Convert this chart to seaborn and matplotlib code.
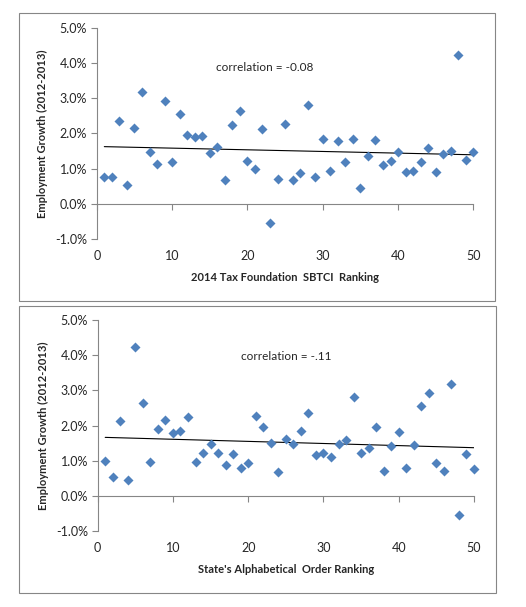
import matplotlib
matplotlib.use("Agg")
import matplotlib.pyplot as plt
import seaborn as sns
import pandas as pd
from matplotlib.patches import Rectangle
from matplotlib.ticker import FuncFormatter

# Data: state rank (x) and employment growth in percent (y)
rank = list(range(1, 51))

growth_by_sbtci = [
    0.77, 0.78, 2.34, 0.53, 2.15, 3.17, 1.47, 1.14, 2.91, 1.20,
    2.54, 1.95, 1.89, 1.94, 1.44, 1.62, 0.67, 2.23, 2.63, 1.21,
    0.98, 2.12, -0.55, 0.70, 2.26, 0.69, 0.87, 2.80, 0.78, 1.83,
    0.95, 1.78, 1.18, 1.83, 0.44, 1.35, 1.81, 1.10, 1.21, 1.47,
    0.92, 0.95, 1.18, 1.58, 0.92, 1.41, 1.49, 4.22, 1.24, 1.47,
]

growth_by_alpha = [
    0.98, 0.53, 2.12, 0.45, 4.22, 2.63, 0.96, 1.90, 2.15, 1.78,
    1.85, 2.23, 0.96, 1.21, 1.47, 1.21, 0.87, 1.18, 0.79, 0.93,
    2.26, 1.95, 1.49, 0.67, 1.61, 1.48, 1.84, 2.35, 1.16, 1.23,
    1.11, 1.48, 1.59, 2.80, 1.21, 1.35, 1.95, 0.70, 1.42, 1.81,
    0.80, 1.44, 2.55, 2.92, 0.93, 0.70, 3.17, -0.55, 1.18, 0.76,
]

x_labels = ["2014 Tax Foundation  SBTCI  Ranking", "State's Alphabetical  Order Ranking"]
notes = ["correlation = -0.08", "correlation = -.11"]
note_pos = [(15.8, 3.88), (19.0, 3.95)]

sns.set_theme(style="white")
plt.rcParams["font.family"] = ["Lato", "DejaVu Sans"]

BLUE = "#4F81BD"
GRAY = "#868686"

fig = plt.figure(figsize=(5.26, 6.07), dpi=100)

# panel frames (Excel chart-area borders)
fig.patches.append(Rectangle((0.0352, 0.5049), 0.906, 0.473, transform=fig.transFigure,
                             fill=False, edgecolor=GRAY, linewidth=0.8))
fig.patches.append(Rectangle((0.0361, 0.0231), 0.9068, 0.4728, transform=fig.transFigure,
                             fill=False, edgecolor=GRAY, linewidth=0.8))

axes_pos = [[0.184, 0.6058, 0.716, 0.3486], [0.1857, 0.1252, 0.7154, 0.3476]]
series = [growth_by_sbtci, growth_by_alpha]

for pos, growth, xlabel, note, npos in zip(axes_pos, series, x_labels, notes, note_pos):
    ax = fig.add_axes(pos)
    df = pd.DataFrame({"rank": rank, "growth": growth})

    sns.regplot(data=df, x="rank", y="growth", scatter=False, ci=None, ax=ax,
                line_kws={"color": "black", "linewidth": 0.8})
    sns.scatterplot(data=df, x="rank", y="growth", marker="D", s=26, color=BLUE,
                    edgecolor=BLUE, linewidth=0, ax=ax, zorder=3, clip_on=False)

    ax.set_xlim(0, 50)
    ax.set_ylim(-1, 5)
    ax.set_yticks([-1, 0, 1, 2, 3, 4, 5])
    ax.yaxis.set_major_formatter(FuncFormatter(lambda v, p: f"{v:.1f}%"))
    ax.set_xticks([0, 10, 20, 30, 40, 50])

    for side in ["top", "right"]:
        ax.spines[side].set_visible(False)
    ax.spines["bottom"].set_position(("data", 0))
    for side in ["left", "bottom"]:
        ax.spines[side].set_color(GRAY)
        ax.spines[side].set_linewidth(0.8)

    ax.tick_params(axis="y", direction="out", length=4, width=0.8, color=GRAY,
                   labelsize=9, pad=3, left=True)
    ax.tick_params(axis="x", direction="out", length=4, width=0.8, color=GRAY,
                   labelbottom=False, bottom=True)

    # x tick labels sit below the plot area, like Excel
    sec = ax.secondary_xaxis(0.0)
    sec.set_xticks([0, 10, 20, 30, 40, 50])
    sec.spines["bottom"].set_visible(False)
    sec.tick_params(length=0, labelsize=9, pad=8)
    sec.set_xlabel(xlabel, fontsize=8, fontweight="bold", labelpad=7)

    ax.set_xlabel("")
    ax.set_ylabel("Employment Growth (2012-2013)", fontsize=8, fontweight="bold", labelpad=5)
    ax.text(npos[0], npos[1], note, fontsize=8.5, va="center", ha="left")

fig.savefig("out.png", dpi=100)
